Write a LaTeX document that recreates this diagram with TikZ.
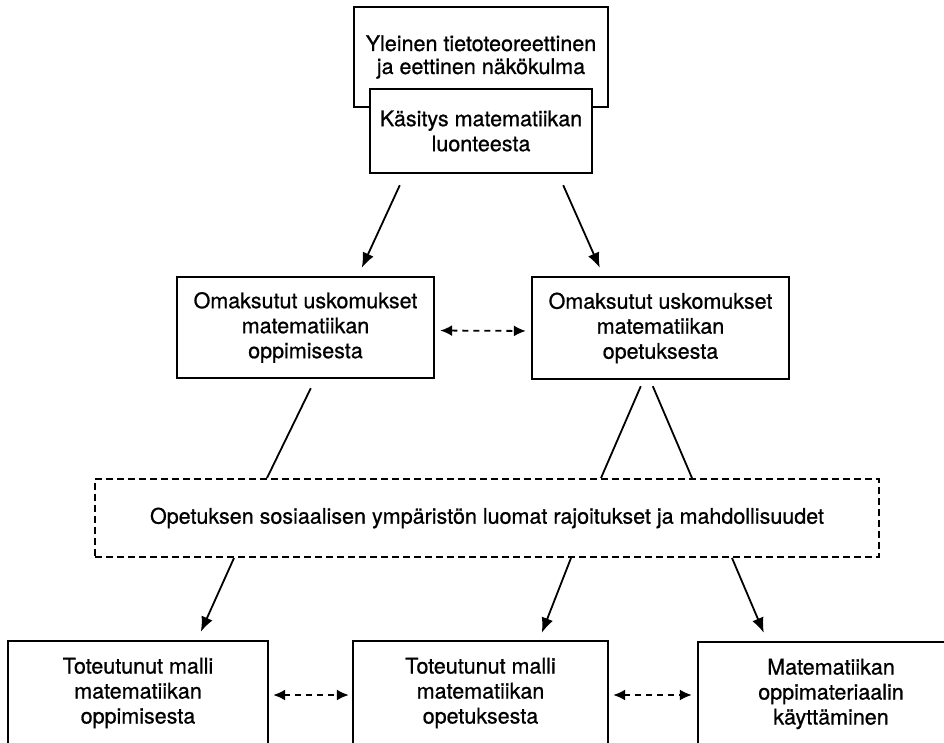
\documentclass[tikz,border=0pt]{standalone}
\usepackage{fontspec}
\setmainfont[FakeBold=0.8]{TeX Gyre Heros}
\usetikzlibrary{arrows.meta,calc}

\begin{document}
\begin{tikzpicture}[x=1pt,y=-1pt,
  box/.style={draw,line width=2.4pt,fill=white,align=center,inner sep=0pt,
    font=\fontsize{21.5}{25}\selectfont},
  envbox/.style={draw,line width=2pt,dash pattern=on 7pt off 4pt,align=center,
    inner sep=0pt,font=\fontsize{21.5}{25}\selectfont},
  arr/.style={-{Latex[length=15pt,width=12pt]},line width=1.8pt},
  link/.style={line width=1.8pt},
  dasharr/.style={{Latex[length=12pt,width=11pt]}-{Latex[length=12pt,width=11pt]},
    line width=1.8pt,dash pattern=on 6pt off 5pt}]
\useasboundingbox (0,0) rectangle (944,743);
\clip (0,0) rectangle (944,743);

\node[box,minimum width=254pt,minimum height=100pt,font=\fontsize{21.5}{23}\selectfont] (yle) at (481,57)
  {Yleinen tietoteoreettinen\\ja eettinen näkökulma};
\node[box,minimum width=222pt,minimum height=84pt] (kas) at (481,131)
  {Käsitys matematiikan\\luonteesta};

\node[box,minimum width=257pt,minimum height=101pt] (omo) at (305.5,327.5)
  {Omaksutut uskomukset\\matematiikan\\oppimisesta};
\node[box,minimum width=257pt,minimum height=102pt] (omt) at (660.5,328)
  {Omaksutut uskomukset\\matematiikan\\opetuksesta};

\node[envbox,minimum width=784pt,minimum height=78pt] (env) at (487,518)
  {Opetuksen sosiaalisen ympäristön luomat rajoitukset ja mahdollisuudet};

\node[box,minimum width=260pt,minimum height=104pt] (tom) at (138,693)
  {Toteutunut malli\\matematiikan\\oppimisesta};
\node[box,minimum width=255pt,minimum height=104pt] (tot) at (480.5,693)
  {Toteutunut malli\\matematiikan\\opetuksesta};
\node[box,minimum width=266pt,minimum height=104pt] (mat) at (831,694)
  {Matematiikan\\oppimateriaalin\\käyttäminen};

\draw[arr] ($(kas.south west)+(31,11)$) -- ($(omo.north west)+(186,-8)$);
\draw[arr] ($(kas.south east)+(-30,11)$) -- ($(omt.north west)+(69,-8)$);
\draw[dasharr,shorten <=5pt,shorten >=5pt] ($(omo.east)+(0,3)$) -- ($(omt.west)+(0,3)$);

\draw[link] ($(omo.south west)+(135,9)$) -- ($(env.north west)+(173,0)$);
\draw[link] ($(omt.south west)+(110,6)$) -- ($(env.north west)+(507,0)$);
\draw[link] ($(omt.south west)+(122,6)$) -- ($(env.north west)+(598,0)$);

\draw[arr] ($(env.south west)+(140,0)$) -- ($(tom.north west)+(194,-8)$);
\draw[arr] ($(env.south west)+(477,0)$) -- ($(tot.north west)+(190,-7)$);
\draw[arr] ($(env.south west)+(638,0)$) -- ($(mat.north west)+(67,-8)$);

\draw[dasharr,shorten <=4pt,shorten >=3pt] ($(tom.east)+(0,2)$) -- ($(tot.west)+(0,2)$);
\draw[dasharr,shorten <=4pt,shorten >=5pt] ($(tot.east)+(0,2)$) -- ($(mat.west)+(0,1)$);
\end{tikzpicture}
\end{document}
